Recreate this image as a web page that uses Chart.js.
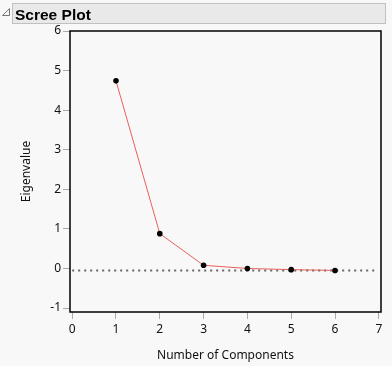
<!DOCTYPE html>
<html>
<head>
<meta charset="utf-8">
<script src="https://cdn.jsdelivr.net/npm/chart.js@4/dist/chart.umd.min.js"></script>
<style>
  html, body { margin: 0; padding: 0; background: #f8f8f8; }
  canvas { display: block; }
</style>
</head>
<body>
<canvas id="c" width="392" height="366"></canvas>
<script>
const chartTitle = "Scree Plot";
const xAxisTitle = "Number of Components";
const yAxisTitle = "Eigenvalue";
const components = [1, 2, 3, 4, 5, 6];
const eigenvalues = [4.74, 0.88, 0.08, 0.0, -0.03, -0.05];
const refLineX = [0, 6.9];
const refLineY = [-0.05, -0.05];

const FONT = "'Noto Sans', 'Liberation Sans', sans-serif";

const framePlugin = {
  id: 'frame',
  beforeDraw(chart) {
    const ctx = chart.ctx;
    ctx.save();
    ctx.fillStyle = '#f8f8f8';
    ctx.fillRect(0, 0, chart.width, chart.height);
    // header box
    ctx.fillStyle = '#e9e9e9';
    ctx.fillRect(12, 3, 374, 21);
    ctx.strokeStyle = '#c0c0c0';
    ctx.lineWidth = 1;
    ctx.strokeRect(12.5, 3.5, 373, 20);
    // disclosure triangle
    ctx.beginPath();
    ctx.moveTo(9.5, 8.5);
    ctx.lineTo(9.5, 15.5);
    ctx.lineTo(2.5, 15.5);
    ctx.closePath();
    ctx.strokeStyle = '#777';
    ctx.stroke();
    // title
    ctx.fillStyle = '#000';
    ctx.font = "bold 15.5px 'Liberation Sans', sans-serif";
    ctx.textBaseline = 'alphabetic';
    ctx.fillText(chartTitle, 15, 20);
    ctx.restore();
  },
  afterDraw(chart) {
    const a = chart.chartArea;
    const ctx = chart.ctx;
    ctx.save();
    ctx.strokeStyle = '#000';
    ctx.lineWidth = 1.5;
    ctx.strokeRect(a.left, a.top, a.right - a.left, a.bottom - a.top);
    ctx.restore();
  }
};

new Chart(document.getElementById('c'), {
  type: 'scatter',
  data: {
    datasets: [
      {
        data: refLineX.map((x, i) => ({ x: x, y: refLineY[i] })),
        showLine: true,
        borderColor: '#666',
        borderWidth: 2,
        borderDash: [2, 4],
        pointRadius: 0,
        order: 2
      },
      {
        data: components.map((x, i) => ({ x: x, y: eigenvalues[i] })),
        showLine: true,
        borderColor: '#e8625a',
        borderWidth: 1,
        pointRadius: 2.8,
        pointBackgroundColor: '#000',
        pointBorderColor: '#000',
        pointBorderWidth: 0,
        order: 1
      }
    ]
  },
  options: {
    responsive: false,
    animation: false,
    devicePixelRatio: 1,
    layout: { padding: { top: 31, right: 11, left: 0, bottom: 0 } },
    plugins: { legend: { display: false }, tooltip: { enabled: false } },
    scales: {
      x: {
        type: 'linear',
        min: -0.05,
        max: 7.05,
        afterFit(s) { s.height = 54; },
        border: { display: false },
        grid: { drawOnChartArea: false, drawTicks: true, tickLength: 7, tickColor: '#aaa' },
        ticks: { stepSize: 1, includeBounds: false, padding: 3, color: '#111', font: { family: FONT, size: 12 } },
        title: { display: true, text: xAxisTitle, color: '#111', font: { family: FONT, size: 12 }, padding: { top: 0, bottom: 3 } }
      },
      y: {
        type: 'linear',
        min: -1.1,
        max: 6,
        afterFit(s) { s.width = 70; },
        border: { display: false },
        grid: { drawOnChartArea: false, drawTicks: true, tickLength: 7, tickColor: '#aaa' },
        ticks: { stepSize: 1, includeBounds: false, padding: 2, color: '#111', font: { family: FONT, size: 12 } },
        title: { display: true, text: yAxisTitle, color: '#111', font: { family: FONT, size: 12 }, padding: { top: 19, bottom: 0 } }
      }
    }
  },
  plugins: [framePlugin]
});
</script>
</body>
</html>
